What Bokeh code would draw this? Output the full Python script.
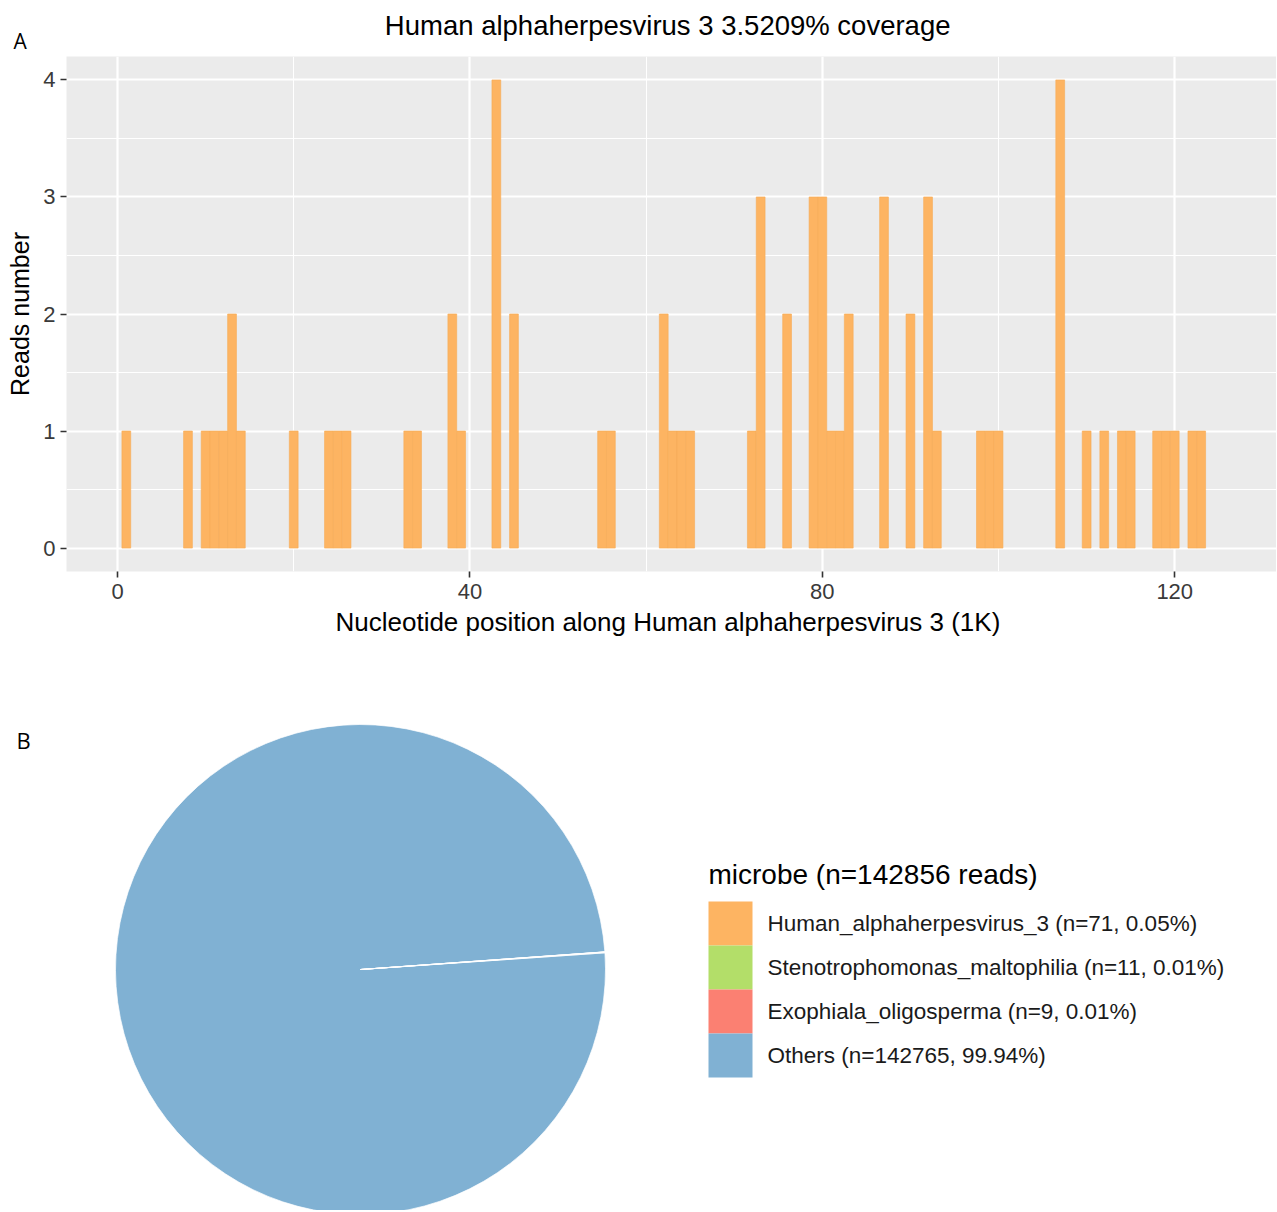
from bokeh.plotting import figure
from bokeh.models import ColumnDataSource, FixedTicker, Label, Range1d, Title
from bokeh.core.properties import value
from bokeh.layouts import column, row
from bokeh.embed import file_html
from bokeh.resources import INLINE
import numpy as np

# ---------------- Panel A data ----------------
virus_name = "Human alphaherpesvirus 3"
coverage_pct = "3.5209"
positions_k = [1, 8, 10, 11, 12, 13, 14, 20, 24, 25, 26, 33, 34, 38, 39, 43, 45,
               55, 56, 62, 63, 64, 65, 72, 73, 76, 79, 80, 81, 82, 83, 87, 90,
               92, 93, 98, 99, 100, 107, 110, 112, 114, 115, 118, 119, 120, 122, 123]
read_counts = [1, 1, 1, 1, 1, 2, 1, 1, 1, 1, 1, 1, 1, 2, 1, 4, 2,
               1, 1, 2, 1, 1, 1, 1, 3, 2, 3, 3, 1, 1, 2, 3, 2,
               3, 1, 1, 1, 1, 4, 1, 1, 1, 1, 1, 1, 1, 1, 1]
x_ticks = [0, 40, 80, 120]
x_minor_ticks = [20, 60, 100]
y_ticks = [0, 1, 2, 3, 4]
y_minor_ticks = [0.5, 1.5, 2.5, 3.5]

# ---------------- Panel B data ----------------
microbes = ["Human_alphaherpesvirus_3", "Stenotrophomonas_maltophilia",
            "Exophiala_oligosperma", "Others"]
microbe_reads = [71, 11, 9, 142765]
microbe_colors = ["#FDB462", "#B3DE69", "#FB8072", "#80B1D3"]

FONT = "Liberation Sans"
W = 1276
HA = 648
HB = 562
FRAME_LEFT = 66

# ---------------- Figure A ----------------
pA = figure(width=W, height=HA, output_backend="svg", toolbar_location=None,
            x_range=Range1d(-5.79, 131.55), y_range=Range1d(-0.2, 4.2),
            min_border_left=FRAME_LEFT, min_border_right=0, min_border_top=56,
            min_border_bottom=HA - 571, title=None)

tag_a = Title(text="A", align="left", offset=-53, standoff=4,
              text_font="Open Sans", text_font_size="21px",
              text_font_style="normal", text_color="black")
main_title = Title(text=f"{virus_name}  {coverage_pct}% coverage", align="center",
                   standoff=-36, text_font=FONT, text_font_size="27.5px",
                   text_font_style="normal", text_color="black")
pA.add_layout(tag_a, "above")
pA.add_layout(main_title, "above")

pA.background_fill_color = "#EBEBEB"
pA.border_fill_color = "white"
pA.outline_line_color = None

pA.xaxis.ticker = FixedTicker(ticks=x_ticks, minor_ticks=x_minor_ticks)
pA.yaxis.ticker = FixedTicker(ticks=y_ticks, minor_ticks=y_minor_ticks)
for g in (pA.xgrid, pA.ygrid):
    g.grid_line_color = "white"
    g.grid_line_width = 2.2
    g.minor_grid_line_color = "white"
    g.minor_grid_line_width = 1.1
for ax in (pA.xaxis, pA.yaxis):
    ax.axis_line_color = None
    ax.major_tick_line_color = "#333333"
    ax.major_tick_line_width = 1.6
    ax.major_tick_out = 6
    ax.major_tick_in = 0
    ax.minor_tick_line_color = None
    ax.major_label_text_font = FONT
    ax.major_label_text_font_size = "22px"
    ax.major_label_text_color = "#3A3A3A"
    ax.axis_label_text_font = FONT
    ax.axis_label_text_font_style = "normal"
    ax.axis_label_text_color = "black"
pA.xaxis.axis_label_text_font_size = "26px"
pA.yaxis.axis_label_text_font_size = "25px"
pA.xaxis.axis_label = f"Nucleotide position along {virus_name}  (1K)"
pA.yaxis.axis_label = "Reads number"
pA.xaxis.major_label_standoff = 6
pA.yaxis.major_label_standoff = 5
pA.xaxis.axis_label_standoff = 5
pA.yaxis.axis_label_standoff = 6

srcA = ColumnDataSource(dict(x=positions_k, top=read_counts))
pA.vbar(x="x", top="top", bottom=0, width=1.0, source=srcA,
        fill_color="#FDB462", line_color="#F6AB55", line_width=0.6)

# ---------------- Figure B (data units = pixels) ----------------
pB = figure(width=W, height=HB, output_backend="svg", toolbar_location=None,
            x_range=Range1d(0, W), y_range=Range1d(0, HB),
            x_axis_location=None, y_axis_location=None,
            min_border_left=0, min_border_right=0,
            min_border_top=0, min_border_bottom=0)
pB.grid.visible = False
pB.outline_line_color = None
pB.background_fill_color = "white"
pB.border_fill_color = "white"

total_reads = sum(microbe_reads)
frac = np.array(microbe_reads, dtype=float) / total_reads
cum = np.concatenate([[0.0], np.cumsum(frac)])
angle_offset = np.deg2rad(3.9)
starts = angle_offset + 2 * np.pi * cum[:-1]
ends = angle_offset + 2 * np.pi * cum[1:]
labels = [f"{m} (n={n}, {100.0 * n / total_reads:.2f}%)"
          for m, n in zip(microbes, microbe_reads)]

pie_cx, pie_cy, pie_r = 360, 241, 245
srcB = ColumnDataSource(dict(start=starts, end=ends, color=microbe_colors, label=labels))
pB.wedge(x=pie_cx, y=pie_cy, radius=pie_r, start_angle="start", end_angle="end",
         fill_color="color", line_color=None, source=srcB)
pB.wedge(x=pie_cx, y=pie_cy, radius=pie_r, start_angle="start", end_angle="end",
         fill_color=None, line_color="white", line_alpha=0.7, line_width=1.0, source=srcB)

# legend (keys + labels + title)
legend_x, legend_top, key = 708, 309, 44
k = np.arange(len(microbes))
key_src = ColumnDataSource(dict(
    left=[legend_x] * len(microbes), right=[legend_x + key] * len(microbes),
    top=legend_top - key * k, bottom=legend_top - key * (k + 1),
    color=microbe_colors, lx=[legend_x + key + 15] * len(microbes),
    ly=legend_top - key * (k + 0.5), label=labels))
pB.quad(left="left", right="right", top="top", bottom="bottom", fill_color="color",
        line_color=None, source=key_src)
pB.text(x="lx", y="ly", text="label", source=key_src, text_font=value(FONT),
        text_font_size=value("22.5px"), text_baseline="middle", text_align="left",
        text_color="#1A1A1A")
pB.text(x=[legend_x], y=[legend_top + 27], text=[f"microbe (n={total_reads} reads)"],
        text_font=value(FONT), text_font_size=value("28px"), text_baseline="middle",
        text_align="left", text_color="black")

pB.add_layout(Label(x=23, y=471, text="B", text_font="Open Sans", text_font_size="22px",
                    text_align="center", text_baseline="middle", text_color="black"))

layout = column(pA, row(pB), spacing=0)
open("out.html", "w").write(file_html(layout, INLINE))
